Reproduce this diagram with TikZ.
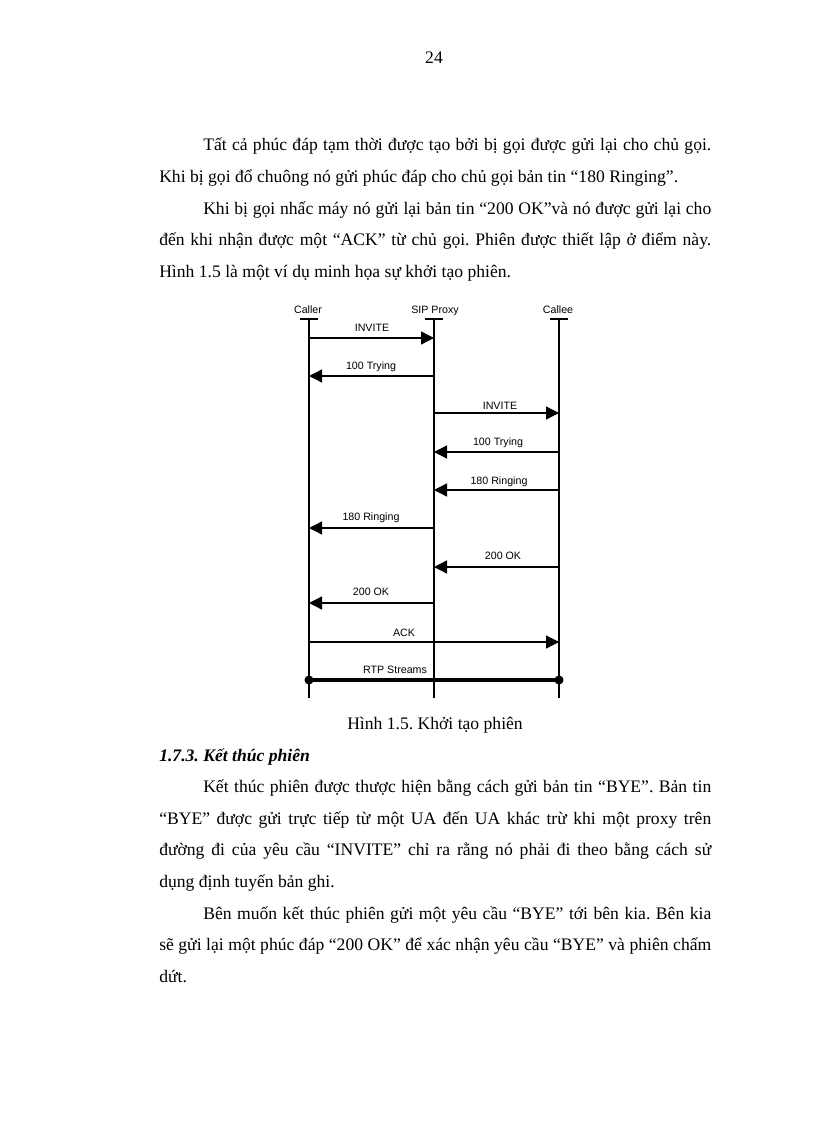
\documentclass[tikz,border=0pt]{standalone}
\usepackage{fontspec}
\setmainfont{Liberation Serif}
\newfontfamily\diagfont{Liberation Sans}
\usetikzlibrary{arrows.meta}
\frenchspacing
\newcommand\bodyfont{\fontsize{13.2}{15}\selectfont\frenchspacing}
\newcommand\lblfont{\diagfont\fontsize{8}{9}\selectfont}
\newcommand\jline[2]{\makebox[#1][s]{#2}}
\tikzset{
  txt/.style={anchor=base west, inner sep=0pt, font=\bodyfont},
  ctxt/.style={anchor=base, inner sep=0pt, font=\bodyfont},
  lbl/.style={anchor=base, inner sep=0pt, font=\lblfont},
  msg/.style={line width=1pt, -{Triangle[length=9.75pt,width=9.75pt]}},
  life/.style={line width=0.8pt},
  tickbar/.style={line width=1.6pt},
  rtp/.style={line width=2.3pt},
}
\begin{document}
\begin{tikzpicture}[x=0.75pt,y=-0.75pt]
\useasboundingbox (0,0) rectangle (816,1123);
\fill[white] (0,0) rectangle (816,1123);

% page number
\node[ctxt] (pg) at (434,64) {24};

% top paragraphs
\node[txt] (t1) at (203,151) {\jline{381pt}{Tất cả phúc đáp tạm thời được tạo bởi bị gọi được gửi lại cho chủ gọi.}};
\node[txt] (t2) at (159,182.6) {Khi bị gọi đổ chuông nó gửi phúc đáp cho chủ gọi bản tin “180 Ringing”.};
\node[txt] (t3) at (203,214.2) {\jline{381pt}{Khi bị gọi nhấc máy nó gửi lại bản tin “200 OK”và nó được gửi lại cho}};
\node[txt] (t4) at (159,245.8) {\jline{414pt}{đến khi nhận được một “ACK” từ chủ gọi. Phiên được thiết lập ở điểm này.}};
\node[txt] (t5) at (159,277.4) {Hình 1.5 là một ví dụ minh họa sự khởi tạo phiên.};

% diagram: lifelines
\coordinate (cT) at (309,319); \coordinate (cB) at (309,698);
\coordinate (pT) at (434,319); \coordinate (pB) at (434,698);
\coordinate (eT) at (559,319); \coordinate (eB) at (559,698);
\draw[life] (cT) -- (cB);
\draw[life] (pT) -- (pB);
\draw[life] (eT) -- (eB);
\draw[tickbar] ([xshift=-6.75pt]cT) -- ([xshift=6.75pt]cT);
\draw[tickbar] ([xshift=-6.75pt]pT) -- ([xshift=6.75pt]pT);
\draw[tickbar] ([xshift=-6.75pt]eT) -- ([xshift=6.75pt]eT);
\node[lbl] (ncaller) at (308,313) {Caller};
\node[lbl] (nproxy) at (435,313) {SIP Proxy};
\node[lbl] (ncallee) at (558,313.5) {Callee};

% message coordinates
\foreach \n/\y in {1/338,2/376,3/413,4/452,5/490,6/528,7/567,8/603,9/642,10/680}{
  \coordinate (c\n) at (309,\y);
  \coordinate (p\n) at (434,\y);
  \coordinate (e\n) at (559,\y);
}
\draw[msg] (c1) -- (p1);
\node[lbl] (l1) at (372,331) {INVITE};
\draw[msg] (p2) -- (c2);
\node[lbl] (l2) at (371,369.5) {100 Trying};
\draw[msg] (p3) -- (e3);
\node[lbl] (l3) at (500,409) {INVITE};
\draw[msg] (e4) -- (p4);
\node[lbl] (l4) at (498,445) {100 Trying};
\draw[msg] (e5) -- (p5);
\node[lbl] (l5) at (499,484) {180 Ringing};
\draw[msg] (p6) -- (c6);
\node[lbl] (l6) at (371,520) {180 Ringing};
\draw[msg] (e7) -- (p7);
\node[lbl] (l7) at (503,559) {200 OK};
\draw[msg] (p8) -- (c8);
\node[lbl] (l8) at (371,595) {200 OK};
\draw[msg] (c9) -- (e9);
\node[lbl] (l9) at (404,636) {ACK};
\draw[rtp] (c10) -- (e10);
\fill (c10) circle[radius=3.4pt];
\fill (e10) circle[radius=3.4pt];
\node[lbl] (l10) at (395,673) {RTP Streams};

% caption
\node[ctxt] (cap) at (435,729.4) {Hình 1.5. Khởi tạo phiên};

% heading
\node[txt] (h) at (159,761) {\bfseries\itshape 1.7.3. Kết thúc phiên};

% bottom paragraphs
\node[txt] (b1) at (203,792.6) {\jline{381pt}{Kết thúc phiên được thược hiện bằng cách gửi bản tin “BYE”. Bản tin}};
\node[txt] (b2) at (159,824.2) {\jline{414pt}{“BYE” được gửi trực tiếp từ một UA đến UA khác trừ khi một proxy trên}};
\node[txt] (b3) at (159,855.8) {\jline{414pt}{đường đi của yêu cầu “INVITE” chỉ ra rằng nó phải đi theo bằng cách sử}};
\node[txt] (b4) at (159,887.4) {dụng định tuyến bản ghi.};
\node[txt] (b5) at (203,919) {\jline{381pt}{Bên muốn kết thúc phiên gửi một yêu cầu “BYE” tới bên kia. Bên kia}};
\node[txt] (b6) at (159,950.6) {\jline{414pt}{sẽ gửi lại một phúc đáp “200 OK” để xác nhận yêu cầu “BYE” và phiên chấm}};
\node[txt] (b7) at (159,982.2) {dứt.};
\end{tikzpicture}
\end{document}
